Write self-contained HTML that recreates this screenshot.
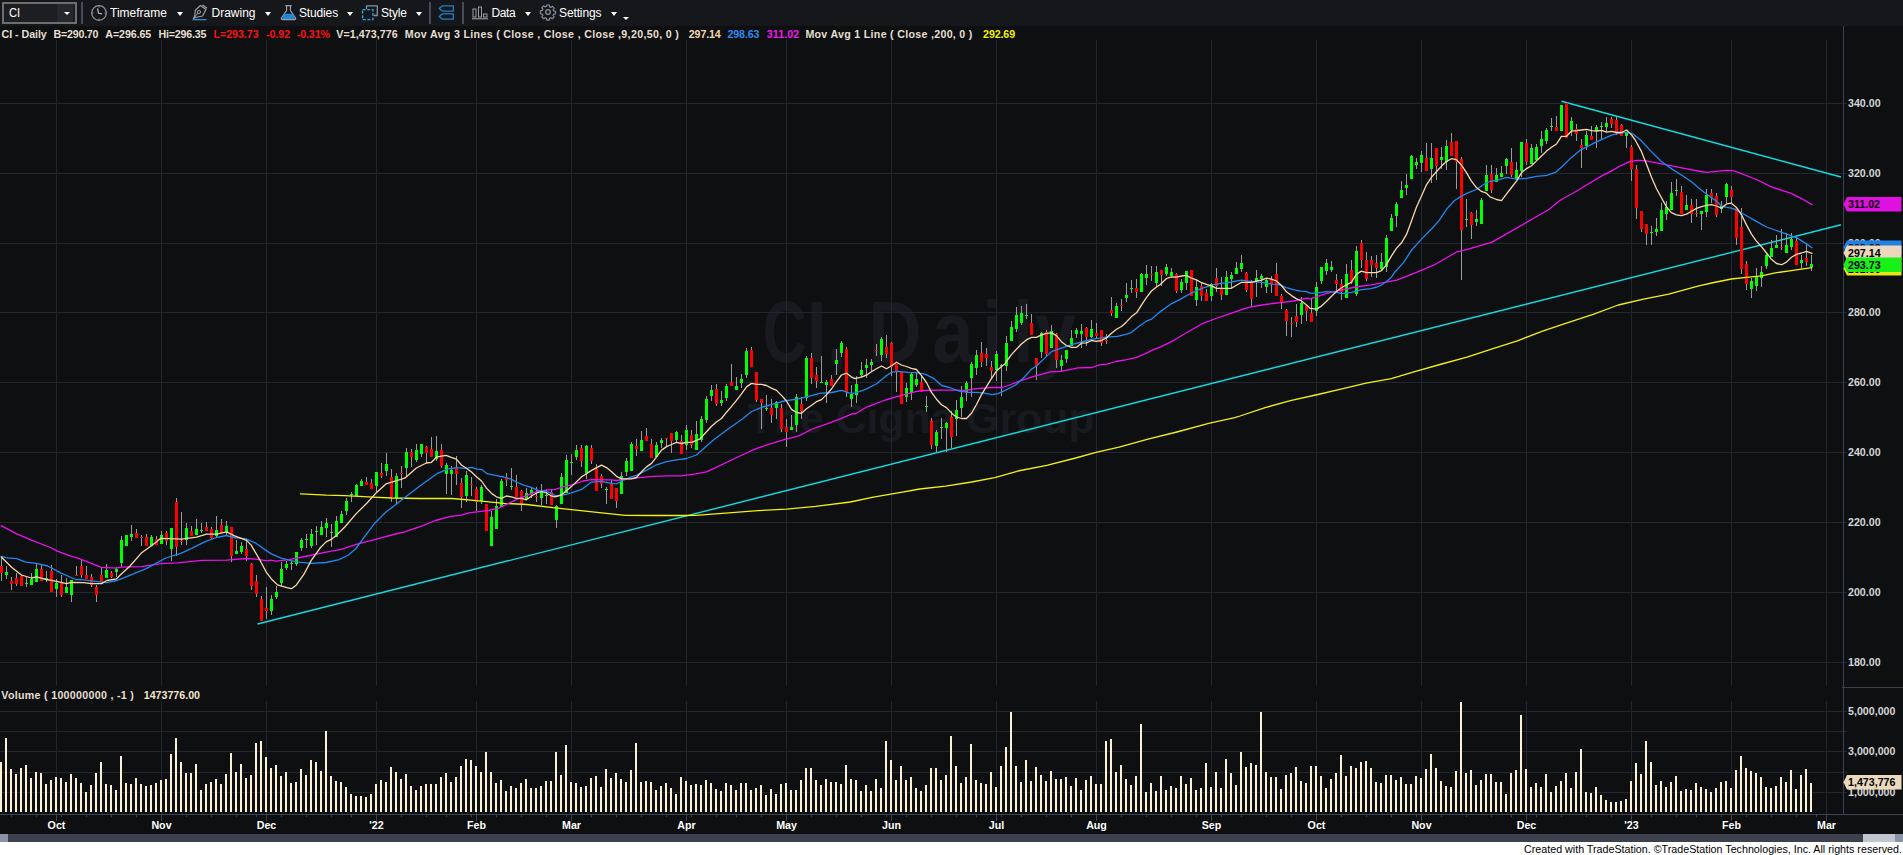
<!DOCTYPE html>
<html><head><meta charset="utf-8"><title>CI Daily</title>
<style>
html,body{margin:0;padding:0;background:#0e0f11;}
body{width:1903px;height:855px;overflow:hidden;position:relative;font-family:"Liberation Sans",sans-serif;}
#tb{position:absolute;left:0;top:0;width:1903px;height:26px;background:#16171a;}
#tb .t{position:absolute;top:5px;font-size:12px;line-height:16px;color:#fff;white-space:nowrap;}
#tb .ar{position:absolute;width:0;height:0;border-left:3.5px solid transparent;border-right:3.5px solid transparent;border-top:4px solid #fff;}
#tb .sep{position:absolute;top:2px;width:2px;height:22px;background:#464c5a;}
#tb svg{position:absolute;}
</style></head><body>
<svg width="1903" height="855" viewBox="0 0 1903 855" style="position:absolute;left:0;top:0">
<rect x="0" y="0" width="1903" height="855" fill="#0e0f11"/>
<g font-family="Liberation Sans, sans-serif" font-weight="bold" fill="#181a1f">
<g transform="scale(0.7,1)"><text y="362" font-size="87" x="1089.6">C</text></g>
<g transform="scale(0.85,1)"><text y="362" font-size="87" x="948.8 972.5 1021.5 1096.7 1155.4 1191.8 1217.4">I,Daily</text></g>
<text x="747.8" y="433" font-size="42" textLength="346.6" lengthAdjust="spacingAndGlyphs">The Cigna Group</text>
</g>
<g shape-rendering="crispEdges" fill="#24262f">
<rect x="0" y="662" width="1847" height="1"/>
<rect x="0" y="592" width="1847" height="1"/>
<rect x="0" y="522" width="1847" height="1"/>
<rect x="0" y="452" width="1847" height="1"/>
<rect x="0" y="382" width="1847" height="1"/>
<rect x="0" y="312" width="1847" height="1"/>
<rect x="0" y="243" width="1847" height="1"/>
<rect x="0" y="173" width="1847" height="1"/>
<rect x="0" y="103" width="1847" height="1"/>
<rect x="0" y="792" width="1847" height="1"/>
<rect x="0" y="772" width="1847" height="1"/>
<rect x="0" y="751" width="1847" height="1"/>
<rect x="0" y="731" width="1847" height="1"/>
<rect x="0" y="711" width="1847" height="1"/>
<rect x="56" y="40" width="1" height="646"/>
<rect x="56" y="701" width="1" height="113"/>
<rect x="161" y="40" width="1" height="646"/>
<rect x="161" y="701" width="1" height="113"/>
<rect x="266" y="40" width="1" height="646"/>
<rect x="266" y="701" width="1" height="113"/>
<rect x="376" y="40" width="1" height="646"/>
<rect x="376" y="701" width="1" height="113"/>
<rect x="476" y="40" width="1" height="646"/>
<rect x="476" y="701" width="1" height="113"/>
<rect x="571" y="40" width="1" height="646"/>
<rect x="571" y="701" width="1" height="113"/>
<rect x="686" y="40" width="1" height="646"/>
<rect x="686" y="701" width="1" height="113"/>
<rect x="786" y="40" width="1" height="646"/>
<rect x="786" y="701" width="1" height="113"/>
<rect x="891" y="40" width="1" height="646"/>
<rect x="891" y="701" width="1" height="113"/>
<rect x="996" y="40" width="1" height="646"/>
<rect x="996" y="701" width="1" height="113"/>
<rect x="1096" y="40" width="1" height="646"/>
<rect x="1096" y="701" width="1" height="113"/>
<rect x="1211" y="40" width="1" height="646"/>
<rect x="1211" y="701" width="1" height="113"/>
<rect x="1316" y="40" width="1" height="646"/>
<rect x="1316" y="701" width="1" height="113"/>
<rect x="1421" y="40" width="1" height="646"/>
<rect x="1421" y="701" width="1" height="113"/>
<rect x="1526" y="40" width="1" height="646"/>
<rect x="1526" y="701" width="1" height="113"/>
<rect x="1631" y="40" width="1" height="646"/>
<rect x="1631" y="701" width="1" height="113"/>
<rect x="1731" y="40" width="1" height="646"/>
<rect x="1731" y="701" width="1" height="113"/>
<rect x="1826" y="40" width="1" height="646"/>
<rect x="1826" y="701" width="1" height="113"/>
</g>
<g shape-rendering="crispEdges" fill="#3c4250">
<rect x="1843" y="26" width="1" height="788"/>
<rect x="0" y="814" width="1903" height="1"/>
<rect x="1842" y="687" width="61" height="1"/>
<rect x="11" y="814" width="1" height="3"/>
<rect x="36" y="814" width="1" height="3"/>
<rect x="61" y="814" width="1" height="3"/>
<rect x="86" y="814" width="1" height="3"/>
<rect x="111" y="814" width="1" height="3"/>
<rect x="136" y="814" width="1" height="3"/>
<rect x="186" y="814" width="1" height="3"/>
<rect x="211" y="814" width="1" height="3"/>
<rect x="236" y="814" width="1" height="3"/>
<rect x="256" y="814" width="1" height="3"/>
<rect x="281" y="814" width="1" height="3"/>
<rect x="306" y="814" width="1" height="3"/>
<rect x="331" y="814" width="1" height="3"/>
<rect x="351" y="814" width="1" height="3"/>
<rect x="401" y="814" width="1" height="3"/>
<rect x="426" y="814" width="1" height="3"/>
<rect x="446" y="814" width="1" height="3"/>
<rect x="471" y="814" width="1" height="3"/>
<rect x="496" y="814" width="1" height="3"/>
<rect x="521" y="814" width="1" height="3"/>
<rect x="546" y="814" width="1" height="3"/>
<rect x="566" y="814" width="1" height="3"/>
<rect x="591" y="814" width="1" height="3"/>
<rect x="616" y="814" width="1" height="3"/>
<rect x="641" y="814" width="1" height="3"/>
<rect x="666" y="814" width="1" height="3"/>
<rect x="691" y="814" width="1" height="3"/>
<rect x="716" y="814" width="1" height="3"/>
<rect x="736" y="814" width="1" height="3"/>
<rect x="761" y="814" width="1" height="3"/>
<rect x="811" y="814" width="1" height="3"/>
<rect x="836" y="814" width="1" height="3"/>
<rect x="861" y="814" width="1" height="3"/>
<rect x="886" y="814" width="1" height="3"/>
<rect x="906" y="814" width="1" height="3"/>
<rect x="931" y="814" width="1" height="3"/>
<rect x="956" y="814" width="1" height="3"/>
<rect x="976" y="814" width="1" height="3"/>
<rect x="1001" y="814" width="1" height="3"/>
<rect x="1021" y="814" width="1" height="3"/>
<rect x="1046" y="814" width="1" height="3"/>
<rect x="1071" y="814" width="1" height="3"/>
<rect x="1121" y="814" width="1" height="3"/>
<rect x="1146" y="814" width="1" height="3"/>
<rect x="1171" y="814" width="1" height="3"/>
<rect x="1196" y="814" width="1" height="3"/>
<rect x="1221" y="814" width="1" height="3"/>
<rect x="1241" y="814" width="1" height="3"/>
<rect x="1266" y="814" width="1" height="3"/>
<rect x="1291" y="814" width="1" height="3"/>
<rect x="1341" y="814" width="1" height="3"/>
<rect x="1366" y="814" width="1" height="3"/>
<rect x="1391" y="814" width="1" height="3"/>
<rect x="1416" y="814" width="1" height="3"/>
<rect x="1441" y="814" width="1" height="3"/>
<rect x="1466" y="814" width="1" height="3"/>
<rect x="1491" y="814" width="1" height="3"/>
<rect x="1511" y="814" width="1" height="3"/>
<rect x="1536" y="814" width="1" height="3"/>
<rect x="1561" y="814" width="1" height="3"/>
<rect x="1586" y="814" width="1" height="3"/>
<rect x="1611" y="814" width="1" height="3"/>
<rect x="1651" y="814" width="1" height="3"/>
<rect x="1676" y="814" width="1" height="3"/>
<rect x="1696" y="814" width="1" height="3"/>
<rect x="1721" y="814" width="1" height="3"/>
<rect x="1746" y="814" width="1" height="3"/>
<rect x="1771" y="814" width="1" height="3"/>
<rect x="1796" y="814" width="1" height="3"/>
<rect x="1816" y="814" width="1" height="3"/>
<rect x="56" y="814" width="1" height="7"/>
<rect x="161" y="814" width="1" height="7"/>
<rect x="266" y="814" width="1" height="7"/>
<rect x="376" y="814" width="1" height="7"/>
<rect x="476" y="814" width="1" height="7"/>
<rect x="571" y="814" width="1" height="7"/>
<rect x="686" y="814" width="1" height="7"/>
<rect x="786" y="814" width="1" height="7"/>
<rect x="891" y="814" width="1" height="7"/>
<rect x="996" y="814" width="1" height="7"/>
<rect x="1096" y="814" width="1" height="7"/>
<rect x="1211" y="814" width="1" height="7"/>
<rect x="1316" y="814" width="1" height="7"/>
<rect x="1421" y="814" width="1" height="7"/>
<rect x="1526" y="814" width="1" height="7"/>
<rect x="1631" y="814" width="1" height="7"/>
<rect x="1731" y="814" width="1" height="7"/>
<rect x="1826" y="814" width="1" height="7"/>
</g>
<g shape-rendering="crispEdges" fill="#fdf0d8">
<rect x="0" y="762" width="2" height="50"/>
<rect x="5" y="738" width="2" height="74"/>
<rect x="10" y="769" width="2" height="43"/>
<rect x="15" y="774" width="2" height="38"/>
<rect x="20" y="768" width="2" height="44"/>
<rect x="25" y="765" width="2" height="47"/>
<rect x="30" y="778" width="2" height="34"/>
<rect x="35" y="772" width="2" height="40"/>
<rect x="40" y="773" width="2" height="39"/>
<rect x="45" y="784" width="2" height="28"/>
<rect x="50" y="780" width="2" height="32"/>
<rect x="55" y="777" width="2" height="35"/>
<rect x="60" y="778" width="2" height="34"/>
<rect x="65" y="782" width="2" height="30"/>
<rect x="70" y="774" width="2" height="38"/>
<rect x="75" y="778" width="2" height="34"/>
<rect x="80" y="783" width="2" height="29"/>
<rect x="85" y="792" width="2" height="20"/>
<rect x="90" y="785" width="2" height="27"/>
<rect x="95" y="773" width="2" height="39"/>
<rect x="100" y="762" width="2" height="50"/>
<rect x="105" y="784" width="2" height="28"/>
<rect x="110" y="785" width="2" height="27"/>
<rect x="115" y="790" width="2" height="22"/>
<rect x="120" y="756" width="2" height="56"/>
<rect x="125" y="783" width="2" height="29"/>
<rect x="130" y="784" width="2" height="28"/>
<rect x="135" y="778" width="2" height="34"/>
<rect x="140" y="784" width="2" height="28"/>
<rect x="145" y="786" width="2" height="26"/>
<rect x="150" y="785" width="2" height="27"/>
<rect x="155" y="783" width="2" height="29"/>
<rect x="160" y="780" width="2" height="32"/>
<rect x="165" y="779" width="2" height="33"/>
<rect x="170" y="754" width="2" height="58"/>
<rect x="175" y="738" width="2" height="74"/>
<rect x="180" y="762" width="2" height="50"/>
<rect x="185" y="773" width="2" height="39"/>
<rect x="190" y="773" width="2" height="39"/>
<rect x="195" y="764" width="2" height="48"/>
<rect x="200" y="790" width="2" height="22"/>
<rect x="205" y="784" width="2" height="28"/>
<rect x="210" y="782" width="2" height="30"/>
<rect x="215" y="779" width="2" height="33"/>
<rect x="220" y="784" width="2" height="28"/>
<rect x="225" y="774" width="2" height="38"/>
<rect x="230" y="753" width="2" height="59"/>
<rect x="235" y="772" width="2" height="40"/>
<rect x="240" y="764" width="2" height="48"/>
<rect x="245" y="778" width="2" height="34"/>
<rect x="250" y="775" width="2" height="37"/>
<rect x="255" y="743" width="2" height="69"/>
<rect x="260" y="741" width="2" height="71"/>
<rect x="265" y="757" width="2" height="55"/>
<rect x="270" y="768" width="2" height="44"/>
<rect x="275" y="765" width="2" height="47"/>
<rect x="280" y="776" width="2" height="36"/>
<rect x="285" y="772" width="2" height="40"/>
<rect x="290" y="783" width="2" height="29"/>
<rect x="295" y="782" width="2" height="30"/>
<rect x="300" y="769" width="2" height="43"/>
<rect x="305" y="775" width="2" height="37"/>
<rect x="310" y="760" width="2" height="52"/>
<rect x="315" y="762" width="2" height="50"/>
<rect x="320" y="771" width="2" height="41"/>
<rect x="325" y="731" width="2" height="81"/>
<rect x="330" y="776" width="2" height="36"/>
<rect x="335" y="781" width="2" height="31"/>
<rect x="340" y="782" width="2" height="30"/>
<rect x="345" y="787" width="2" height="25"/>
<rect x="350" y="794" width="2" height="18"/>
<rect x="355" y="796" width="2" height="16"/>
<rect x="360" y="796" width="2" height="16"/>
<rect x="365" y="797" width="2" height="15"/>
<rect x="370" y="794" width="2" height="18"/>
<rect x="375" y="784" width="2" height="28"/>
<rect x="380" y="780" width="2" height="32"/>
<rect x="385" y="782" width="2" height="30"/>
<rect x="390" y="767" width="2" height="45"/>
<rect x="395" y="772" width="2" height="40"/>
<rect x="400" y="779" width="2" height="33"/>
<rect x="405" y="774" width="2" height="38"/>
<rect x="410" y="786" width="2" height="26"/>
<rect x="415" y="790" width="2" height="22"/>
<rect x="420" y="786" width="2" height="26"/>
<rect x="425" y="784" width="2" height="28"/>
<rect x="430" y="784" width="2" height="28"/>
<rect x="435" y="784" width="2" height="28"/>
<rect x="440" y="777" width="2" height="35"/>
<rect x="445" y="773" width="2" height="39"/>
<rect x="450" y="782" width="2" height="30"/>
<rect x="455" y="777" width="2" height="35"/>
<rect x="460" y="766" width="2" height="46"/>
<rect x="465" y="759" width="2" height="53"/>
<rect x="470" y="760" width="2" height="52"/>
<rect x="475" y="766" width="2" height="46"/>
<rect x="480" y="772" width="2" height="40"/>
<rect x="485" y="752" width="2" height="60"/>
<rect x="490" y="772" width="2" height="40"/>
<rect x="495" y="783" width="2" height="29"/>
<rect x="500" y="780" width="2" height="32"/>
<rect x="505" y="791" width="2" height="21"/>
<rect x="510" y="786" width="2" height="26"/>
<rect x="515" y="788" width="2" height="24"/>
<rect x="520" y="783" width="2" height="29"/>
<rect x="525" y="779" width="2" height="33"/>
<rect x="530" y="788" width="2" height="24"/>
<rect x="535" y="788" width="2" height="24"/>
<rect x="540" y="786" width="2" height="26"/>
<rect x="545" y="781" width="2" height="31"/>
<rect x="550" y="781" width="2" height="31"/>
<rect x="555" y="752" width="2" height="60"/>
<rect x="560" y="775" width="2" height="37"/>
<rect x="565" y="745" width="2" height="67"/>
<rect x="570" y="782" width="2" height="30"/>
<rect x="575" y="783" width="2" height="29"/>
<rect x="580" y="787" width="2" height="25"/>
<rect x="585" y="786" width="2" height="26"/>
<rect x="590" y="778" width="2" height="34"/>
<rect x="595" y="776" width="2" height="36"/>
<rect x="600" y="787" width="2" height="25"/>
<rect x="605" y="769" width="2" height="43"/>
<rect x="610" y="778" width="2" height="34"/>
<rect x="615" y="773" width="2" height="39"/>
<rect x="620" y="779" width="2" height="33"/>
<rect x="625" y="782" width="2" height="30"/>
<rect x="630" y="770" width="2" height="42"/>
<rect x="635" y="743" width="2" height="69"/>
<rect x="640" y="782" width="2" height="30"/>
<rect x="645" y="781" width="2" height="31"/>
<rect x="650" y="782" width="2" height="30"/>
<rect x="655" y="790" width="2" height="22"/>
<rect x="660" y="786" width="2" height="26"/>
<rect x="665" y="783" width="2" height="29"/>
<rect x="670" y="788" width="2" height="24"/>
<rect x="675" y="794" width="2" height="18"/>
<rect x="680" y="777" width="2" height="35"/>
<rect x="685" y="781" width="2" height="31"/>
<rect x="690" y="785" width="2" height="27"/>
<rect x="695" y="784" width="2" height="28"/>
<rect x="700" y="785" width="2" height="27"/>
<rect x="705" y="780" width="2" height="32"/>
<rect x="710" y="783" width="2" height="29"/>
<rect x="715" y="789" width="2" height="23"/>
<rect x="720" y="791" width="2" height="21"/>
<rect x="725" y="783" width="2" height="29"/>
<rect x="730" y="785" width="2" height="27"/>
<rect x="735" y="790" width="2" height="22"/>
<rect x="740" y="783" width="2" height="29"/>
<rect x="745" y="783" width="2" height="29"/>
<rect x="750" y="790" width="2" height="22"/>
<rect x="755" y="788" width="2" height="24"/>
<rect x="760" y="785" width="2" height="27"/>
<rect x="765" y="795" width="2" height="17"/>
<rect x="770" y="789" width="2" height="23"/>
<rect x="775" y="794" width="2" height="18"/>
<rect x="780" y="784" width="2" height="28"/>
<rect x="785" y="783" width="2" height="29"/>
<rect x="790" y="790" width="2" height="22"/>
<rect x="795" y="790" width="2" height="22"/>
<rect x="800" y="780" width="2" height="32"/>
<rect x="805" y="768" width="2" height="44"/>
<rect x="810" y="768" width="2" height="44"/>
<rect x="815" y="780" width="2" height="32"/>
<rect x="820" y="785" width="2" height="27"/>
<rect x="825" y="779" width="2" height="33"/>
<rect x="830" y="782" width="2" height="30"/>
<rect x="835" y="782" width="2" height="30"/>
<rect x="840" y="784" width="2" height="28"/>
<rect x="845" y="765" width="2" height="47"/>
<rect x="850" y="779" width="2" height="33"/>
<rect x="855" y="780" width="2" height="32"/>
<rect x="860" y="791" width="2" height="21"/>
<rect x="865" y="785" width="2" height="27"/>
<rect x="870" y="791" width="2" height="21"/>
<rect x="875" y="779" width="2" height="33"/>
<rect x="880" y="788" width="2" height="24"/>
<rect x="885" y="741" width="2" height="71"/>
<rect x="890" y="760" width="2" height="52"/>
<rect x="895" y="780" width="2" height="32"/>
<rect x="900" y="766" width="2" height="46"/>
<rect x="905" y="780" width="2" height="32"/>
<rect x="910" y="777" width="2" height="35"/>
<rect x="915" y="788" width="2" height="24"/>
<rect x="920" y="791" width="2" height="21"/>
<rect x="925" y="785" width="2" height="27"/>
<rect x="930" y="768" width="2" height="44"/>
<rect x="935" y="768" width="2" height="44"/>
<rect x="940" y="780" width="2" height="32"/>
<rect x="945" y="775" width="2" height="37"/>
<rect x="950" y="736" width="2" height="76"/>
<rect x="955" y="766" width="2" height="46"/>
<rect x="960" y="783" width="2" height="29"/>
<rect x="965" y="777" width="2" height="35"/>
<rect x="970" y="744" width="2" height="68"/>
<rect x="975" y="780" width="2" height="32"/>
<rect x="980" y="783" width="2" height="29"/>
<rect x="985" y="784" width="2" height="28"/>
<rect x="990" y="772" width="2" height="40"/>
<rect x="995" y="787" width="2" height="25"/>
<rect x="1000" y="766" width="2" height="46"/>
<rect x="1005" y="747" width="2" height="65"/>
<rect x="1010" y="712" width="2" height="100"/>
<rect x="1015" y="766" width="2" height="46"/>
<rect x="1020" y="782" width="2" height="30"/>
<rect x="1025" y="760" width="2" height="52"/>
<rect x="1030" y="781" width="2" height="31"/>
<rect x="1035" y="767" width="2" height="45"/>
<rect x="1040" y="775" width="2" height="37"/>
<rect x="1045" y="781" width="2" height="31"/>
<rect x="1050" y="771" width="2" height="41"/>
<rect x="1055" y="779" width="2" height="33"/>
<rect x="1060" y="779" width="2" height="33"/>
<rect x="1065" y="777" width="2" height="35"/>
<rect x="1070" y="786" width="2" height="26"/>
<rect x="1075" y="778" width="2" height="34"/>
<rect x="1080" y="790" width="2" height="22"/>
<rect x="1085" y="780" width="2" height="32"/>
<rect x="1090" y="776" width="2" height="36"/>
<rect x="1095" y="784" width="2" height="28"/>
<rect x="1100" y="784" width="2" height="28"/>
<rect x="1105" y="741" width="2" height="71"/>
<rect x="1110" y="739" width="2" height="73"/>
<rect x="1115" y="772" width="2" height="40"/>
<rect x="1120" y="765" width="2" height="47"/>
<rect x="1125" y="779" width="2" height="33"/>
<rect x="1130" y="785" width="2" height="27"/>
<rect x="1135" y="776" width="2" height="36"/>
<rect x="1140" y="724" width="2" height="88"/>
<rect x="1145" y="792" width="2" height="20"/>
<rect x="1150" y="783" width="2" height="29"/>
<rect x="1155" y="791" width="2" height="21"/>
<rect x="1160" y="776" width="2" height="36"/>
<rect x="1165" y="790" width="2" height="22"/>
<rect x="1170" y="786" width="2" height="26"/>
<rect x="1175" y="788" width="2" height="24"/>
<rect x="1180" y="776" width="2" height="36"/>
<rect x="1185" y="784" width="2" height="28"/>
<rect x="1190" y="778" width="2" height="34"/>
<rect x="1195" y="790" width="2" height="22"/>
<rect x="1200" y="788" width="2" height="24"/>
<rect x="1205" y="763" width="2" height="49"/>
<rect x="1210" y="787" width="2" height="25"/>
<rect x="1215" y="772" width="2" height="40"/>
<rect x="1220" y="788" width="2" height="24"/>
<rect x="1225" y="759" width="2" height="53"/>
<rect x="1230" y="773" width="2" height="39"/>
<rect x="1235" y="785" width="2" height="27"/>
<rect x="1240" y="752" width="2" height="60"/>
<rect x="1245" y="767" width="2" height="45"/>
<rect x="1250" y="763" width="2" height="49"/>
<rect x="1255" y="765" width="2" height="47"/>
<rect x="1260" y="712" width="2" height="100"/>
<rect x="1265" y="772" width="2" height="40"/>
<rect x="1270" y="777" width="2" height="35"/>
<rect x="1275" y="777" width="2" height="35"/>
<rect x="1280" y="789" width="2" height="23"/>
<rect x="1285" y="775" width="2" height="37"/>
<rect x="1290" y="773" width="2" height="39"/>
<rect x="1295" y="767" width="2" height="45"/>
<rect x="1300" y="781" width="2" height="31"/>
<rect x="1305" y="783" width="2" height="29"/>
<rect x="1310" y="766" width="2" height="46"/>
<rect x="1315" y="766" width="2" height="46"/>
<rect x="1320" y="776" width="2" height="36"/>
<rect x="1325" y="788" width="2" height="24"/>
<rect x="1330" y="779" width="2" height="33"/>
<rect x="1335" y="773" width="2" height="39"/>
<rect x="1340" y="755" width="2" height="57"/>
<rect x="1345" y="776" width="2" height="36"/>
<rect x="1350" y="766" width="2" height="46"/>
<rect x="1355" y="768" width="2" height="44"/>
<rect x="1360" y="762" width="2" height="50"/>
<rect x="1365" y="761" width="2" height="51"/>
<rect x="1370" y="768" width="2" height="44"/>
<rect x="1375" y="782" width="2" height="30"/>
<rect x="1380" y="783" width="2" height="29"/>
<rect x="1385" y="775" width="2" height="37"/>
<rect x="1390" y="775" width="2" height="37"/>
<rect x="1395" y="780" width="2" height="32"/>
<rect x="1400" y="777" width="2" height="35"/>
<rect x="1405" y="784" width="2" height="28"/>
<rect x="1410" y="784" width="2" height="28"/>
<rect x="1415" y="776" width="2" height="36"/>
<rect x="1420" y="778" width="2" height="34"/>
<rect x="1425" y="769" width="2" height="43"/>
<rect x="1430" y="754" width="2" height="58"/>
<rect x="1435" y="768" width="2" height="44"/>
<rect x="1440" y="781" width="2" height="31"/>
<rect x="1445" y="786" width="2" height="26"/>
<rect x="1450" y="787" width="2" height="25"/>
<rect x="1455" y="771" width="2" height="41"/>
<rect x="1460" y="702" width="2" height="110"/>
<rect x="1465" y="773" width="2" height="39"/>
<rect x="1470" y="770" width="2" height="42"/>
<rect x="1475" y="785" width="2" height="27"/>
<rect x="1480" y="780" width="2" height="32"/>
<rect x="1485" y="774" width="2" height="38"/>
<rect x="1490" y="774" width="2" height="38"/>
<rect x="1495" y="782" width="2" height="30"/>
<rect x="1500" y="782" width="2" height="30"/>
<rect x="1505" y="794" width="2" height="18"/>
<rect x="1510" y="773" width="2" height="39"/>
<rect x="1515" y="770" width="2" height="42"/>
<rect x="1520" y="715" width="2" height="97"/>
<rect x="1525" y="769" width="2" height="43"/>
<rect x="1530" y="787" width="2" height="25"/>
<rect x="1535" y="783" width="2" height="29"/>
<rect x="1540" y="787" width="2" height="25"/>
<rect x="1545" y="774" width="2" height="38"/>
<rect x="1550" y="792" width="2" height="20"/>
<rect x="1555" y="786" width="2" height="26"/>
<rect x="1560" y="781" width="2" height="31"/>
<rect x="1565" y="773" width="2" height="39"/>
<rect x="1570" y="788" width="2" height="24"/>
<rect x="1575" y="772" width="2" height="40"/>
<rect x="1580" y="749" width="2" height="63"/>
<rect x="1585" y="792" width="2" height="20"/>
<rect x="1590" y="793" width="2" height="19"/>
<rect x="1595" y="787" width="2" height="25"/>
<rect x="1600" y="795" width="2" height="17"/>
<rect x="1605" y="800" width="2" height="12"/>
<rect x="1610" y="802" width="2" height="10"/>
<rect x="1615" y="802" width="2" height="10"/>
<rect x="1620" y="801" width="2" height="11"/>
<rect x="1625" y="799" width="2" height="13"/>
<rect x="1630" y="781" width="2" height="31"/>
<rect x="1635" y="763" width="2" height="49"/>
<rect x="1640" y="774" width="2" height="38"/>
<rect x="1645" y="741" width="2" height="71"/>
<rect x="1650" y="762" width="2" height="50"/>
<rect x="1655" y="785" width="2" height="27"/>
<rect x="1660" y="781" width="2" height="31"/>
<rect x="1665" y="787" width="2" height="25"/>
<rect x="1670" y="782" width="2" height="30"/>
<rect x="1675" y="776" width="2" height="36"/>
<rect x="1680" y="791" width="2" height="21"/>
<rect x="1685" y="789" width="2" height="23"/>
<rect x="1690" y="790" width="2" height="22"/>
<rect x="1695" y="783" width="2" height="29"/>
<rect x="1700" y="787" width="2" height="25"/>
<rect x="1705" y="789" width="2" height="23"/>
<rect x="1710" y="792" width="2" height="20"/>
<rect x="1715" y="788" width="2" height="24"/>
<rect x="1720" y="782" width="2" height="30"/>
<rect x="1725" y="781" width="2" height="31"/>
<rect x="1730" y="788" width="2" height="24"/>
<rect x="1735" y="770" width="2" height="42"/>
<rect x="1740" y="756" width="2" height="56"/>
<rect x="1745" y="768" width="2" height="44"/>
<rect x="1750" y="771" width="2" height="41"/>
<rect x="1755" y="773" width="2" height="39"/>
<rect x="1760" y="777" width="2" height="35"/>
<rect x="1765" y="787" width="2" height="25"/>
<rect x="1770" y="788" width="2" height="24"/>
<rect x="1775" y="786" width="2" height="26"/>
<rect x="1780" y="777" width="2" height="35"/>
<rect x="1785" y="782" width="2" height="30"/>
<rect x="1790" y="770" width="2" height="42"/>
<rect x="1795" y="789" width="2" height="23"/>
<rect x="1800" y="775" width="2" height="37"/>
<rect x="1805" y="769" width="2" height="43"/>
<rect x="1810" y="783" width="2" height="29"/>
</g>
<g fill="none" stroke="#10dde2" stroke-width="1.4">
<path d="M257.5 624 L1841 224.8"/>
<path d="M1561.5 101.2 L1841 177"/>
</g>
<g shape-rendering="crispEdges">
<g fill="#9a9a9a"><rect x="1" y="558" width="1" height="23"/><rect x="6" y="566" width="1" height="13"/><rect x="11" y="577" width="1" height="13"/><rect x="16" y="573" width="1" height="13"/><rect x="21" y="575" width="1" height="11"/><rect x="26" y="577" width="1" height="10"/><rect x="31" y="573" width="1" height="12"/><rect x="36" y="564" width="1" height="18"/><rect x="41" y="565" width="1" height="16"/><rect x="46" y="571" width="1" height="11"/><rect x="51" y="565" width="1" height="27"/><rect x="56" y="579" width="1" height="18"/><rect x="61" y="575" width="1" height="22"/><rect x="66" y="578" width="1" height="15"/><rect x="71" y="580" width="1" height="22"/><rect x="76" y="566" width="1" height="10"/><rect x="81" y="560" width="1" height="18"/><rect x="86" y="566" width="1" height="13"/><rect x="91" y="574" width="1" height="13"/><rect x="96" y="585" width="1" height="17"/><rect x="101" y="568" width="1" height="14"/><rect x="106" y="564" width="1" height="14"/><rect x="111" y="571" width="1" height="7"/><rect x="116" y="567" width="1" height="10"/><rect x="121" y="536" width="1" height="31"/><rect x="126" y="535" width="1" height="11"/><rect x="131" y="525" width="1" height="16"/><rect x="136" y="529" width="1" height="9"/><rect x="141" y="535" width="1" height="11"/><rect x="146" y="534" width="1" height="12"/><rect x="151" y="535" width="1" height="11"/><rect x="156" y="536" width="1" height="9"/><rect x="161" y="531" width="1" height="13"/><rect x="166" y="531" width="1" height="14"/><rect x="171" y="528" width="1" height="33"/><rect x="176" y="498" width="1" height="58"/><rect x="181" y="512" width="1" height="33"/><rect x="186" y="523" width="1" height="22"/><rect x="191" y="526" width="1" height="10"/><rect x="196" y="519" width="1" height="16"/><rect x="201" y="523" width="1" height="10"/><rect x="206" y="522" width="1" height="9"/><rect x="211" y="527" width="1" height="12"/><rect x="216" y="516" width="1" height="21"/><rect x="221" y="519" width="1" height="14"/><rect x="226" y="521" width="1" height="14"/><rect x="231" y="527" width="1" height="35"/><rect x="236" y="540" width="1" height="14"/><rect x="241" y="542" width="1" height="12"/><rect x="246" y="540" width="1" height="21"/><rect x="251" y="563" width="1" height="27"/><rect x="256" y="575" width="1" height="22"/><rect x="261" y="596" width="1" height="25"/><rect x="266" y="587" width="1" height="32"/><rect x="271" y="595" width="1" height="20"/><rect x="276" y="586" width="1" height="13"/><rect x="281" y="562" width="1" height="24"/><rect x="286" y="561" width="1" height="9"/><rect x="291" y="560" width="1" height="10"/><rect x="296" y="552" width="1" height="14"/><rect x="301" y="538" width="1" height="13"/><rect x="306" y="534" width="1" height="14"/><rect x="311" y="529" width="1" height="19"/><rect x="316" y="526" width="1" height="19"/><rect x="321" y="521" width="1" height="14"/><rect x="326" y="518" width="1" height="19"/><rect x="331" y="524" width="1" height="23"/><rect x="336" y="516" width="1" height="21"/><rect x="341" y="511" width="1" height="12"/><rect x="346" y="498" width="1" height="17"/><rect x="351" y="492" width="1" height="10"/><rect x="356" y="484" width="1" height="12"/><rect x="361" y="479" width="1" height="7"/><rect x="366" y="477" width="1" height="8"/><rect x="371" y="479" width="1" height="10"/><rect x="376" y="472" width="1" height="21"/><rect x="381" y="463" width="1" height="15"/><rect x="386" y="453" width="1" height="23"/><rect x="391" y="469" width="1" height="33"/><rect x="396" y="473" width="1" height="31"/><rect x="401" y="466" width="1" height="22"/><rect x="406" y="448" width="1" height="29"/><rect x="411" y="449" width="1" height="18"/><rect x="416" y="444" width="1" height="18"/><rect x="421" y="444" width="1" height="13"/><rect x="426" y="446" width="1" height="17"/><rect x="431" y="437" width="1" height="20"/><rect x="436" y="436" width="1" height="25"/><rect x="441" y="444" width="1" height="24"/><rect x="446" y="463" width="1" height="31"/><rect x="451" y="466" width="1" height="29"/><rect x="456" y="456" width="1" height="29"/><rect x="461" y="478" width="1" height="30"/><rect x="466" y="471" width="1" height="31"/><rect x="471" y="477" width="1" height="19"/><rect x="476" y="487" width="1" height="24"/><rect x="481" y="485" width="1" height="19"/><rect x="486" y="504" width="1" height="27"/><rect x="491" y="511" width="1" height="35"/><rect x="496" y="499" width="1" height="30"/><rect x="501" y="479" width="1" height="28"/><rect x="506" y="473" width="1" height="13"/><rect x="511" y="468" width="1" height="22"/><rect x="516" y="475" width="1" height="22"/><rect x="521" y="490" width="1" height="21"/><rect x="526" y="488" width="1" height="12"/><rect x="531" y="487" width="1" height="11"/><rect x="536" y="487" width="1" height="15"/><rect x="541" y="484" width="1" height="21"/><rect x="546" y="489" width="1" height="15"/><rect x="551" y="490" width="1" height="15"/><rect x="556" y="505" width="1" height="23"/><rect x="561" y="473" width="1" height="31"/><rect x="566" y="455" width="1" height="38"/><rect x="571" y="454" width="1" height="21"/><rect x="576" y="445" width="1" height="15"/><rect x="581" y="445" width="1" height="22"/><rect x="586" y="445" width="1" height="34"/><rect x="591" y="445" width="1" height="19"/><rect x="596" y="464" width="1" height="27"/><rect x="601" y="474" width="1" height="14"/><rect x="606" y="487" width="1" height="17"/><rect x="611" y="480" width="1" height="19"/><rect x="616" y="488" width="1" height="20"/><rect x="621" y="472" width="1" height="22"/><rect x="626" y="458" width="1" height="18"/><rect x="631" y="442" width="1" height="29"/><rect x="636" y="439" width="1" height="17"/><rect x="641" y="431" width="1" height="20"/><rect x="646" y="428" width="1" height="13"/><rect x="651" y="439" width="1" height="19"/><rect x="656" y="442" width="1" height="15"/><rect x="661" y="438" width="1" height="10"/><rect x="666" y="438" width="1" height="8"/><rect x="671" y="433" width="1" height="20"/><rect x="676" y="431" width="1" height="11"/><rect x="681" y="435" width="1" height="19"/><rect x="686" y="425" width="1" height="25"/><rect x="691" y="430" width="1" height="18"/><rect x="696" y="421" width="1" height="29"/><rect x="701" y="416" width="1" height="26"/><rect x="706" y="396" width="1" height="27"/><rect x="711" y="385" width="1" height="16"/><rect x="716" y="384" width="1" height="22"/><rect x="721" y="391" width="1" height="15"/><rect x="726" y="384" width="1" height="17"/><rect x="731" y="364" width="1" height="22"/><rect x="736" y="377" width="1" height="13"/><rect x="741" y="374" width="1" height="14"/><rect x="746" y="348" width="1" height="30"/><rect x="751" y="347" width="1" height="20"/><rect x="756" y="372" width="1" height="30"/><rect x="761" y="399" width="1" height="30"/><rect x="766" y="395" width="1" height="16"/><rect x="771" y="399" width="1" height="24"/><rect x="776" y="401" width="1" height="18"/><rect x="781" y="404" width="1" height="28"/><rect x="786" y="419" width="1" height="28"/><rect x="791" y="415" width="1" height="15"/><rect x="796" y="394" width="1" height="38"/><rect x="801" y="397" width="1" height="22"/><rect x="806" y="356" width="1" height="45"/><rect x="811" y="353" width="1" height="31"/><rect x="816" y="367" width="1" height="21"/><rect x="821" y="356" width="1" height="27"/><rect x="826" y="380" width="1" height="23"/><rect x="831" y="375" width="1" height="11"/><rect x="836" y="349" width="1" height="26"/><rect x="841" y="341" width="1" height="16"/><rect x="846" y="347" width="1" height="50"/><rect x="851" y="385" width="1" height="22"/><rect x="856" y="376" width="1" height="27"/><rect x="861" y="362" width="1" height="15"/><rect x="866" y="359" width="1" height="19"/><rect x="871" y="359" width="1" height="12"/><rect x="876" y="344" width="1" height="12"/><rect x="881" y="337" width="1" height="24"/><rect x="886" y="335" width="1" height="23"/><rect x="891" y="342" width="1" height="34"/><rect x="896" y="364" width="1" height="28"/><rect x="901" y="372" width="1" height="32"/><rect x="906" y="383" width="1" height="19"/><rect x="911" y="373" width="1" height="27"/><rect x="916" y="373" width="1" height="14"/><rect x="921" y="376" width="1" height="16"/><rect x="926" y="396" width="1" height="16"/><rect x="931" y="418" width="1" height="31"/><rect x="936" y="430" width="1" height="22"/><rect x="941" y="418" width="1" height="21"/><rect x="946" y="422" width="1" height="30"/><rect x="951" y="411" width="1" height="37"/><rect x="956" y="400" width="1" height="36"/><rect x="961" y="386" width="1" height="31"/><rect x="966" y="381" width="1" height="20"/><rect x="971" y="362" width="1" height="35"/><rect x="976" y="350" width="1" height="25"/><rect x="981" y="342" width="1" height="25"/><rect x="986" y="348" width="1" height="18"/><rect x="991" y="361" width="1" height="17"/><rect x="996" y="351" width="1" height="30"/><rect x="1001" y="364" width="1" height="32"/><rect x="1006" y="336" width="1" height="35"/><rect x="1011" y="321" width="1" height="20"/><rect x="1016" y="307" width="1" height="25"/><rect x="1021" y="306" width="1" height="19"/><rect x="1026" y="304" width="1" height="15"/><rect x="1031" y="314" width="1" height="21"/><rect x="1036" y="358" width="1" height="22"/><rect x="1041" y="332" width="1" height="26"/><rect x="1046" y="330" width="1" height="27"/><rect x="1051" y="325" width="1" height="23"/><rect x="1056" y="333" width="1" height="35"/><rect x="1061" y="355" width="1" height="16"/><rect x="1066" y="350" width="1" height="13"/><rect x="1071" y="330" width="1" height="16"/><rect x="1076" y="328" width="1" height="10"/><rect x="1081" y="324" width="1" height="24"/><rect x="1086" y="327" width="1" height="19"/><rect x="1091" y="320" width="1" height="18"/><rect x="1096" y="323" width="1" height="15"/><rect x="1101" y="330" width="1" height="16"/><rect x="1106" y="334" width="1" height="10"/><rect x="1111" y="297" width="1" height="19"/><rect x="1116" y="303" width="1" height="15"/><rect x="1121" y="299" width="1" height="12"/><rect x="1126" y="283" width="1" height="19"/><rect x="1131" y="280" width="1" height="13"/><rect x="1136" y="279" width="1" height="19"/><rect x="1141" y="273" width="1" height="19"/><rect x="1146" y="265" width="1" height="20"/><rect x="1151" y="266" width="1" height="15"/><rect x="1156" y="266" width="1" height="20"/><rect x="1161" y="270" width="1" height="16"/><rect x="1166" y="264" width="1" height="12"/><rect x="1171" y="268" width="1" height="8"/><rect x="1176" y="273" width="1" height="20"/><rect x="1181" y="279" width="1" height="14"/><rect x="1186" y="271" width="1" height="19"/><rect x="1191" y="270" width="1" height="26"/><rect x="1196" y="280" width="1" height="26"/><rect x="1201" y="283" width="1" height="18"/><rect x="1206" y="289" width="1" height="12"/><rect x="1211" y="283" width="1" height="18"/><rect x="1216" y="268" width="1" height="24"/><rect x="1221" y="277" width="1" height="23"/><rect x="1226" y="271" width="1" height="24"/><rect x="1231" y="272" width="1" height="16"/><rect x="1236" y="262" width="1" height="12"/><rect x="1241" y="255" width="1" height="17"/><rect x="1246" y="272" width="1" height="20"/><rect x="1251" y="280" width="1" height="27"/><rect x="1256" y="270" width="1" height="27"/><rect x="1261" y="274" width="1" height="14"/><rect x="1266" y="278" width="1" height="15"/><rect x="1271" y="276" width="1" height="17"/><rect x="1276" y="263" width="1" height="33"/><rect x="1281" y="294" width="1" height="15"/><rect x="1286" y="309" width="1" height="27"/><rect x="1291" y="317" width="1" height="20"/><rect x="1296" y="304" width="1" height="23"/><rect x="1301" y="297" width="1" height="27"/><rect x="1306" y="305" width="1" height="16"/><rect x="1311" y="299" width="1" height="23"/><rect x="1316" y="282" width="1" height="34"/><rect x="1321" y="267" width="1" height="17"/><rect x="1326" y="259" width="1" height="16"/><rect x="1331" y="261" width="1" height="11"/><rect x="1336" y="274" width="1" height="18"/><rect x="1341" y="279" width="1" height="21"/><rect x="1346" y="264" width="1" height="34"/><rect x="1351" y="260" width="1" height="24"/><rect x="1356" y="246" width="1" height="50"/><rect x="1361" y="240" width="1" height="28"/><rect x="1366" y="252" width="1" height="29"/><rect x="1371" y="256" width="1" height="21"/><rect x="1376" y="255" width="1" height="23"/><rect x="1381" y="253" width="1" height="17"/><rect x="1386" y="235" width="1" height="37"/><rect x="1391" y="214" width="1" height="17"/><rect x="1396" y="202" width="1" height="25"/><rect x="1401" y="181" width="1" height="17"/><rect x="1406" y="174" width="1" height="21"/><rect x="1411" y="155" width="1" height="24"/><rect x="1416" y="158" width="1" height="11"/><rect x="1421" y="151" width="1" height="21"/><rect x="1426" y="143" width="1" height="28"/><rect x="1431" y="143" width="1" height="40"/><rect x="1436" y="148" width="1" height="32"/><rect x="1441" y="147" width="1" height="22"/><rect x="1446" y="140" width="1" height="30"/><rect x="1451" y="133" width="1" height="23"/><rect x="1456" y="141" width="1" height="48"/><rect x="1461" y="157" width="1" height="123"/><rect x="1466" y="199" width="1" height="28"/><rect x="1471" y="212" width="1" height="27"/><rect x="1476" y="210" width="1" height="16"/><rect x="1481" y="198" width="1" height="26"/><rect x="1486" y="165" width="1" height="26"/><rect x="1491" y="165" width="1" height="28"/><rect x="1496" y="168" width="1" height="14"/><rect x="1501" y="166" width="1" height="11"/><rect x="1506" y="158" width="1" height="16"/><rect x="1511" y="148" width="1" height="29"/><rect x="1516" y="162" width="1" height="18"/><rect x="1521" y="142" width="1" height="35"/><rect x="1526" y="139" width="1" height="26"/><rect x="1531" y="144" width="1" height="20"/><rect x="1536" y="144" width="1" height="16"/><rect x="1541" y="131" width="1" height="22"/><rect x="1546" y="128" width="1" height="16"/><rect x="1551" y="118" width="1" height="13"/><rect x="1556" y="116" width="1" height="15"/><rect x="1561" y="105" width="1" height="26"/><rect x="1566" y="103" width="1" height="35"/><rect x="1571" y="117" width="1" height="19"/><rect x="1576" y="124" width="1" height="17"/><rect x="1581" y="139" width="1" height="29"/><rect x="1586" y="131" width="1" height="19"/><rect x="1591" y="126" width="1" height="14"/><rect x="1596" y="125" width="1" height="23"/><rect x="1601" y="122" width="1" height="18"/><rect x="1606" y="117" width="1" height="15"/><rect x="1611" y="117" width="1" height="11"/><rect x="1616" y="117" width="1" height="18"/><rect x="1621" y="124" width="1" height="12"/><rect x="1626" y="132" width="1" height="16"/><rect x="1631" y="145" width="1" height="36"/><rect x="1636" y="165" width="1" height="54"/><rect x="1641" y="211" width="1" height="21"/><rect x="1646" y="224" width="1" height="21"/><rect x="1651" y="226" width="1" height="19"/><rect x="1656" y="218" width="1" height="18"/><rect x="1661" y="203" width="1" height="28"/><rect x="1666" y="201" width="1" height="19"/><rect x="1671" y="182" width="1" height="28"/><rect x="1676" y="179" width="1" height="17"/><rect x="1681" y="186" width="1" height="28"/><rect x="1686" y="195" width="1" height="15"/><rect x="1691" y="199" width="1" height="24"/><rect x="1696" y="199" width="1" height="18"/><rect x="1701" y="211" width="1" height="19"/><rect x="1706" y="189" width="1" height="28"/><rect x="1711" y="189" width="1" height="14"/><rect x="1716" y="193" width="1" height="24"/><rect x="1721" y="201" width="1" height="12"/><rect x="1726" y="183" width="1" height="20"/><rect x="1731" y="186" width="1" height="17"/><rect x="1736" y="208" width="1" height="37"/><rect x="1741" y="208" width="1" height="66"/><rect x="1746" y="261" width="1" height="29"/><rect x="1751" y="278" width="1" height="20"/><rect x="1756" y="268" width="1" height="23"/><rect x="1761" y="266" width="1" height="21"/><rect x="1766" y="253" width="1" height="16"/><rect x="1771" y="240" width="1" height="17"/><rect x="1776" y="235" width="1" height="13"/><rect x="1781" y="229" width="1" height="21"/><rect x="1786" y="233" width="1" height="20"/><rect x="1791" y="233" width="1" height="17"/><rect x="1796" y="238" width="1" height="27"/><rect x="1801" y="255" width="1" height="14"/><rect x="1806" y="243" width="1" height="23"/><rect x="1811" y="255" width="1" height="16"/></g>
<g fill="#00ff00"><rect x="5" y="572" width="3" height="3"/><rect x="25" y="583" width="3" height="1"/><rect x="30" y="579" width="3" height="6"/><rect x="35" y="569" width="3" height="13"/><rect x="45" y="578" width="3" height="1"/><rect x="55" y="583" width="3" height="6"/><rect x="65" y="587" width="3" height="6"/><rect x="70" y="580" width="3" height="15"/><rect x="105" y="570" width="3" height="8"/><rect x="115" y="569" width="3" height="3"/><rect x="120" y="540" width="3" height="23"/><rect x="125" y="535" width="3" height="11"/><rect x="130" y="534" width="3" height="3"/><rect x="150" y="537" width="3" height="9"/><rect x="160" y="535" width="3" height="9"/><rect x="170" y="528" width="3" height="21"/><rect x="185" y="528" width="3" height="12"/><rect x="195" y="529" width="3" height="6"/><rect x="200" y="530" width="3" height="1"/><rect x="215" y="530" width="3" height="6"/><rect x="225" y="526" width="3" height="6"/><rect x="235" y="551" width="3" height="3"/><rect x="240" y="546" width="3" height="6"/><rect x="270" y="599" width="3" height="12"/><rect x="275" y="592" width="3" height="5"/><rect x="280" y="569" width="3" height="14"/><rect x="285" y="564" width="3" height="4"/><rect x="290" y="563" width="3" height="1"/><rect x="295" y="552" width="3" height="12"/><rect x="300" y="540" width="3" height="8"/><rect x="305" y="539" width="3" height="1"/><rect x="310" y="534" width="3" height="12"/><rect x="315" y="531" width="3" height="1"/><rect x="320" y="527" width="3" height="8"/><rect x="325" y="523" width="3" height="5"/><rect x="330" y="532" width="3" height="1"/><rect x="335" y="521" width="3" height="16"/><rect x="340" y="514" width="3" height="9"/><rect x="345" y="501" width="3" height="10"/><rect x="350" y="494" width="3" height="1"/><rect x="355" y="485" width="3" height="11"/><rect x="360" y="481" width="3" height="5"/><rect x="375" y="472" width="3" height="14"/><rect x="385" y="464" width="3" height="7"/><rect x="395" y="476" width="3" height="22"/><rect x="405" y="452" width="3" height="16"/><rect x="415" y="450" width="3" height="10"/><rect x="420" y="444" width="3" height="10"/><rect x="435" y="451" width="3" height="8"/><rect x="445" y="465" width="3" height="9"/><rect x="450" y="470" width="3" height="4"/><rect x="465" y="475" width="3" height="21"/><rect x="480" y="487" width="3" height="14"/><rect x="490" y="517" width="3" height="29"/><rect x="495" y="506" width="3" height="23"/><rect x="500" y="481" width="3" height="26"/><rect x="510" y="486" width="3" height="1"/><rect x="525" y="493" width="3" height="6"/><rect x="530" y="490" width="3" height="4"/><rect x="540" y="491" width="3" height="7"/><rect x="545" y="495" width="3" height="1"/><rect x="555" y="506" width="3" height="14"/><rect x="560" y="477" width="3" height="27"/><rect x="565" y="460" width="3" height="33"/><rect x="570" y="462" width="3" height="1"/><rect x="575" y="450" width="3" height="7"/><rect x="585" y="446" width="3" height="27"/><rect x="605" y="489" width="3" height="1"/><rect x="620" y="476" width="3" height="18"/><rect x="625" y="461" width="3" height="11"/><rect x="630" y="444" width="3" height="27"/><rect x="640" y="440" width="3" height="11"/><rect x="655" y="445" width="3" height="12"/><rect x="660" y="440" width="3" height="3"/><rect x="675" y="432" width="3" height="8"/><rect x="685" y="430" width="3" height="15"/><rect x="695" y="434" width="3" height="16"/><rect x="700" y="419" width="3" height="21"/><rect x="705" y="399" width="3" height="21"/><rect x="710" y="390" width="3" height="6"/><rect x="720" y="400" width="3" height="3"/><rect x="725" y="386" width="3" height="12"/><rect x="735" y="386" width="3" height="4"/><rect x="740" y="379" width="3" height="4"/><rect x="745" y="351" width="3" height="24"/><rect x="765" y="408" width="3" height="1"/><rect x="775" y="402" width="3" height="6"/><rect x="790" y="427" width="3" height="3"/><rect x="795" y="397" width="3" height="28"/><rect x="805" y="358" width="3" height="40"/><rect x="820" y="382" width="3" height="1"/><rect x="825" y="382" width="3" height="3"/><rect x="835" y="360" width="3" height="4"/><rect x="840" y="343" width="3" height="10"/><rect x="850" y="394" width="3" height="5"/><rect x="855" y="384" width="3" height="11"/><rect x="860" y="370" width="3" height="5"/><rect x="865" y="365" width="3" height="3"/><rect x="870" y="362" width="3" height="3"/><rect x="880" y="339" width="3" height="16"/><rect x="905" y="388" width="3" height="9"/><rect x="910" y="374" width="3" height="19"/><rect x="915" y="379" width="3" height="6"/><rect x="925" y="406" width="3" height="1"/><rect x="935" y="432" width="3" height="14"/><rect x="940" y="427" width="3" height="1"/><rect x="945" y="423" width="3" height="5"/><rect x="955" y="410" width="3" height="9"/><rect x="960" y="397" width="3" height="11"/><rect x="965" y="383" width="3" height="9"/><rect x="970" y="364" width="3" height="14"/><rect x="975" y="355" width="3" height="13"/><rect x="995" y="354" width="3" height="16"/><rect x="1000" y="365" width="3" height="1"/><rect x="1005" y="343" width="3" height="23"/><rect x="1010" y="327" width="3" height="14"/><rect x="1015" y="315" width="3" height="14"/><rect x="1020" y="313" width="3" height="10"/><rect x="1025" y="315" width="3" height="1"/><rect x="1040" y="333" width="3" height="19"/><rect x="1050" y="331" width="3" height="17"/><rect x="1060" y="360" width="3" height="6"/><rect x="1065" y="350" width="3" height="9"/><rect x="1070" y="338" width="3" height="8"/><rect x="1075" y="330" width="3" height="4"/><rect x="1080" y="331" width="3" height="3"/><rect x="1090" y="329" width="3" height="8"/><rect x="1115" y="306" width="3" height="12"/><rect x="1125" y="295" width="3" height="3"/><rect x="1130" y="288" width="3" height="1"/><rect x="1140" y="274" width="3" height="18"/><rect x="1145" y="274" width="3" height="4"/><rect x="1155" y="272" width="3" height="11"/><rect x="1165" y="267" width="3" height="7"/><rect x="1170" y="272" width="3" height="4"/><rect x="1180" y="282" width="3" height="8"/><rect x="1185" y="271" width="3" height="12"/><rect x="1195" y="287" width="3" height="13"/><rect x="1210" y="284" width="3" height="12"/><rect x="1225" y="277" width="3" height="18"/><rect x="1230" y="275" width="3" height="4"/><rect x="1235" y="268" width="3" height="6"/><rect x="1240" y="263" width="3" height="6"/><rect x="1255" y="278" width="3" height="3"/><rect x="1260" y="276" width="3" height="3"/><rect x="1265" y="280" width="3" height="7"/><rect x="1300" y="303" width="3" height="12"/><rect x="1315" y="287" width="3" height="24"/><rect x="1320" y="267" width="3" height="14"/><rect x="1325" y="263" width="3" height="8"/><rect x="1330" y="267" width="3" height="3"/><rect x="1345" y="274" width="3" height="24"/><rect x="1355" y="251" width="3" height="43"/><rect x="1380" y="262" width="3" height="7"/><rect x="1385" y="238" width="3" height="29"/><rect x="1390" y="218" width="3" height="13"/><rect x="1395" y="204" width="3" height="12"/><rect x="1400" y="190" width="3" height="8"/><rect x="1405" y="185" width="3" height="3"/><rect x="1410" y="156" width="3" height="23"/><rect x="1415" y="162" width="3" height="3"/><rect x="1420" y="155" width="3" height="8"/><rect x="1430" y="158" width="3" height="11"/><rect x="1440" y="157" width="3" height="3"/><rect x="1445" y="146" width="3" height="16"/><rect x="1465" y="219" width="3" height="1"/><rect x="1475" y="219" width="3" height="3"/><rect x="1480" y="200" width="3" height="24"/><rect x="1485" y="175" width="3" height="16"/><rect x="1495" y="175" width="3" height="7"/><rect x="1500" y="173" width="3" height="4"/><rect x="1505" y="159" width="3" height="7"/><rect x="1515" y="170" width="3" height="9"/><rect x="1520" y="142" width="3" height="29"/><rect x="1530" y="148" width="3" height="16"/><rect x="1535" y="147" width="3" height="13"/><rect x="1540" y="139" width="3" height="7"/><rect x="1545" y="130" width="3" height="11"/><rect x="1550" y="126" width="3" height="1"/><rect x="1560" y="105" width="3" height="26"/><rect x="1570" y="121" width="3" height="9"/><rect x="1585" y="135" width="3" height="11"/><rect x="1595" y="127" width="3" height="4"/><rect x="1600" y="126" width="3" height="1"/><rect x="1605" y="123" width="3" height="4"/><rect x="1625" y="133" width="3" height="3"/><rect x="1650" y="232" width="3" height="1"/><rect x="1655" y="229" width="3" height="3"/><rect x="1660" y="210" width="3" height="21"/><rect x="1665" y="207" width="3" height="7"/><rect x="1670" y="193" width="3" height="17"/><rect x="1675" y="190" width="3" height="1"/><rect x="1685" y="205" width="3" height="5"/><rect x="1700" y="211" width="3" height="3"/><rect x="1705" y="195" width="3" height="17"/><rect x="1720" y="206" width="3" height="3"/><rect x="1725" y="184" width="3" height="13"/><rect x="1750" y="281" width="3" height="8"/><rect x="1755" y="276" width="3" height="10"/><rect x="1760" y="272" width="3" height="6"/><rect x="1765" y="255" width="3" height="11"/><rect x="1770" y="248" width="3" height="9"/><rect x="1775" y="245" width="3" height="3"/><rect x="1785" y="245" width="3" height="8"/><rect x="1790" y="239" width="3" height="8"/><rect x="1800" y="260" width="3" height="3"/><rect x="1810" y="264" width="3" height="3"/></g>
<g fill="#ff0000"><rect x="0" y="566" width="3" height="7"/><rect x="10" y="581" width="3" height="3"/><rect x="15" y="578" width="3" height="6"/><rect x="20" y="576" width="3" height="10"/><rect x="40" y="569" width="3" height="12"/><rect x="50" y="571" width="3" height="21"/><rect x="60" y="583" width="3" height="12"/><rect x="75" y="575" width="3" height="1"/><rect x="80" y="566" width="3" height="9"/><rect x="85" y="575" width="3" height="4"/><rect x="90" y="577" width="3" height="8"/><rect x="95" y="587" width="3" height="8"/><rect x="100" y="575" width="3" height="7"/><rect x="110" y="573" width="3" height="4"/><rect x="135" y="533" width="3" height="5"/><rect x="140" y="537" width="3" height="1"/><rect x="145" y="537" width="3" height="9"/><rect x="155" y="539" width="3" height="6"/><rect x="165" y="533" width="3" height="8"/><rect x="175" y="502" width="3" height="45"/><rect x="180" y="541" width="3" height="1"/><rect x="190" y="531" width="3" height="5"/><rect x="205" y="527" width="3" height="4"/><rect x="210" y="529" width="3" height="9"/><rect x="220" y="525" width="3" height="8"/><rect x="230" y="527" width="3" height="29"/><rect x="245" y="549" width="3" height="7"/><rect x="250" y="564" width="3" height="22"/><rect x="255" y="581" width="3" height="13"/><rect x="260" y="599" width="3" height="22"/><rect x="265" y="608" width="3" height="3"/><rect x="365" y="482" width="3" height="3"/><rect x="370" y="483" width="3" height="6"/><rect x="380" y="473" width="3" height="3"/><rect x="390" y="477" width="3" height="20"/><rect x="400" y="473" width="3" height="1"/><rect x="410" y="452" width="3" height="5"/><rect x="425" y="447" width="3" height="6"/><rect x="430" y="449" width="3" height="8"/><rect x="440" y="450" width="3" height="16"/><rect x="455" y="468" width="3" height="6"/><rect x="460" y="483" width="3" height="14"/><rect x="470" y="484" width="3" height="1"/><rect x="475" y="489" width="3" height="13"/><rect x="485" y="504" width="3" height="27"/><rect x="505" y="477" width="3" height="3"/><rect x="515" y="487" width="3" height="10"/><rect x="520" y="491" width="3" height="13"/><rect x="535" y="496" width="3" height="1"/><rect x="550" y="492" width="3" height="13"/><rect x="580" y="448" width="3" height="13"/><rect x="590" y="448" width="3" height="13"/><rect x="595" y="469" width="3" height="22"/><rect x="600" y="476" width="3" height="8"/><rect x="610" y="484" width="3" height="15"/><rect x="615" y="488" width="3" height="13"/><rect x="635" y="446" width="3" height="3"/><rect x="645" y="436" width="3" height="5"/><rect x="650" y="444" width="3" height="14"/><rect x="665" y="438" width="3" height="1"/><rect x="670" y="433" width="3" height="8"/><rect x="680" y="441" width="3" height="13"/><rect x="690" y="435" width="3" height="10"/><rect x="715" y="389" width="3" height="15"/><rect x="730" y="382" width="3" height="4"/><rect x="750" y="350" width="3" height="17"/><rect x="755" y="372" width="3" height="28"/><rect x="760" y="399" width="3" height="4"/><rect x="770" y="408" width="3" height="7"/><rect x="780" y="408" width="3" height="21"/><rect x="785" y="427" width="3" height="5"/><rect x="800" y="404" width="3" height="7"/><rect x="810" y="358" width="3" height="20"/><rect x="815" y="375" width="3" height="6"/><rect x="830" y="379" width="3" height="7"/><rect x="845" y="349" width="3" height="43"/><rect x="875" y="350" width="3" height="1"/><rect x="885" y="347" width="3" height="7"/><rect x="890" y="343" width="3" height="24"/><rect x="895" y="364" width="3" height="7"/><rect x="900" y="372" width="3" height="32"/><rect x="920" y="382" width="3" height="10"/><rect x="930" y="421" width="3" height="24"/><rect x="950" y="417" width="3" height="20"/><rect x="980" y="353" width="3" height="9"/><rect x="985" y="354" width="3" height="4"/><rect x="990" y="367" width="3" height="4"/><rect x="1030" y="323" width="3" height="12"/><rect x="1035" y="358" width="3" height="8"/><rect x="1045" y="332" width="3" height="22"/><rect x="1055" y="334" width="3" height="26"/><rect x="1085" y="328" width="3" height="9"/><rect x="1095" y="333" width="3" height="3"/><rect x="1100" y="330" width="3" height="13"/><rect x="1105" y="340" width="3" height="1"/><rect x="1110" y="310" width="3" height="3"/><rect x="1120" y="305" width="3" height="1"/><rect x="1135" y="288" width="3" height="4"/><rect x="1150" y="274" width="3" height="1"/><rect x="1160" y="270" width="3" height="5"/><rect x="1175" y="274" width="3" height="17"/><rect x="1190" y="270" width="3" height="26"/><rect x="1200" y="286" width="3" height="10"/><rect x="1205" y="293" width="3" height="8"/><rect x="1215" y="278" width="3" height="8"/><rect x="1220" y="289" width="3" height="6"/><rect x="1245" y="273" width="3" height="17"/><rect x="1250" y="283" width="3" height="16"/><rect x="1270" y="279" width="3" height="5"/><rect x="1275" y="274" width="3" height="22"/><rect x="1280" y="296" width="3" height="6"/><rect x="1285" y="310" width="3" height="11"/><rect x="1290" y="323" width="3" height="1"/><rect x="1295" y="316" width="3" height="6"/><rect x="1305" y="306" width="3" height="5"/><rect x="1310" y="313" width="3" height="9"/><rect x="1335" y="280" width="3" height="4"/><rect x="1340" y="284" width="3" height="8"/><rect x="1350" y="270" width="3" height="13"/><rect x="1360" y="243" width="3" height="17"/><rect x="1365" y="260" width="3" height="19"/><rect x="1370" y="260" width="3" height="5"/><rect x="1375" y="263" width="3" height="5"/><rect x="1425" y="158" width="3" height="13"/><rect x="1435" y="148" width="3" height="18"/><rect x="1450" y="142" width="3" height="14"/><rect x="1455" y="141" width="3" height="21"/><rect x="1460" y="159" width="3" height="71"/><rect x="1470" y="213" width="3" height="12"/><rect x="1490" y="174" width="3" height="16"/><rect x="1510" y="162" width="3" height="13"/><rect x="1525" y="143" width="3" height="19"/><rect x="1555" y="127" width="3" height="4"/><rect x="1565" y="103" width="3" height="35"/><rect x="1575" y="129" width="3" height="5"/><rect x="1580" y="145" width="3" height="3"/><rect x="1590" y="136" width="3" height="4"/><rect x="1610" y="119" width="3" height="5"/><rect x="1615" y="120" width="3" height="12"/><rect x="1620" y="125" width="3" height="11"/><rect x="1630" y="147" width="3" height="22"/><rect x="1635" y="169" width="3" height="39"/><rect x="1640" y="211" width="3" height="18"/><rect x="1645" y="224" width="3" height="10"/><rect x="1680" y="192" width="3" height="22"/><rect x="1690" y="205" width="3" height="9"/><rect x="1695" y="213" width="3" height="1"/><rect x="1710" y="193" width="3" height="4"/><rect x="1715" y="196" width="3" height="19"/><rect x="1730" y="190" width="3" height="7"/><rect x="1735" y="208" width="3" height="30"/><rect x="1740" y="227" width="3" height="42"/><rect x="1745" y="264" width="3" height="20"/><rect x="1780" y="247" width="3" height="1"/><rect x="1795" y="241" width="3" height="24"/><rect x="1805" y="258" width="3" height="4"/></g>
</g>
<g fill="none" stroke-width="1.3" stroke-linejoin="round" stroke-linecap="round">
<path d="M300.5 493.9 L326.1 495.2 L344.8 495.7 L372.9 497.2 L391.6 498.0 L420.0 498.5 L452.1 498.5 L476.5 500.6 L503.9 503.3 L526.7 504.5 L555.0 507.9 L583.1 510.9 L611.1 513.9 L625.2 515.4 L653.2 515.5 L681.3 515.5 L695.4 515.4 L728.9 512.9 L757.8 510.6 L786.7 509.2 L815.6 506.3 L850.3 502.0 L873.4 497.1 L902.3 492.1 L919.7 489.0 L945.7 486.1 L971.7 482.0 L994.8 477.7 L1017.9 471.0 L1046.8 465.3 L1075.7 458.0 L1096.0 452.3 L1119.1 447.1 L1148.0 439.2 L1176.9 432.0 L1208.7 423.4 L1234.7 417.6 L1240.0 416.0 L1265.2 407.6 L1290.4 400.6 L1315.7 395.0 L1340.9 389.2 L1366.1 383.2 L1391.3 378.6 L1416.5 371.1 L1441.8 364.0 L1467.0 357.2 L1492.2 348.9 L1517.4 340.8 L1542.6 331.2 L1567.9 322.6 L1593.1 314.3 L1618.3 305.0 L1643.5 299.2 L1668.8 294.1 L1691.5 287.8 L1700.0 285.6 L1714.0 282.5 L1731.4 279.0 L1746.5 277.3 L1761.5 275.9 L1776.5 272.7 L1791.3 270.6 L1801.5 269.1 L1811.9 267.7" stroke="#f2f210"/>
<path d="M1.3 525.7 L16.7 533.8 L31.5 540.2 L51.5 548.0 L56.6 550.9 L70.8 556.1 L77.2 557.9 L90.1 562.8 L101.4 567.3 L116.5 568.2 L120.7 567.1 L141.3 566.6 L160.9 563.7 L177.3 562.9 L201.9 560.4 L226.5 560.1 L246.1 558.5 L255.9 559.1 L267.4 560.8 L270.0 560.1 L276.1 561.2 L288.7 559.7 L307.4 556.0 L326.1 552.2 L341.1 549.4 L357.9 543.8 L376.6 539.1 L397.2 533.5 L405.0 531.9 L410.3 529.8 L420.2 526.6 L435.4 520.5 L450.6 516.3 L461.3 515.2 L468.9 512.9 L481.0 511.4 L488.7 510.5 L499.3 507.9 L508.4 503.3 L517.5 499.2 L526.7 495.7 L535.8 491.9 L546.4 490.1 L555.3 489.3 L563.4 486.9 L571.8 484.9 L583.1 481.0 L591.5 479.6 L611.1 479.8 L616.8 480.5 L622.4 479.3 L636.4 477.9 L653.2 476.3 L667.3 475.8 L681.3 475.8 L695.4 473.9 L706.6 471.8 L742.1 455.0 L756.1 448.7 L770.2 443.8 L784.2 439.6 L798.2 436.1 L812.3 429.0 L826.3 424.1 L840.4 418.9 L852.3 413.6 L855.0 414.0 L867.2 406.8 L885.4 400.0 L900.6 395.7 L915.8 391.6 L921.9 390.5 L940.2 390.1 L953.9 390.1 L964.5 390.5 L976.7 388.6 L991.9 387.5 L1002.5 387.5 L1009.6 385.0 L1020.2 380.9 L1035.4 375.9 L1050.6 371.8 L1061.3 371.3 L1078.0 367.9 L1091.7 367.5 L1099.3 364.8 L1106.9 364.2 L1116.0 361.5 L1126.7 359.6 L1135.8 357.7 L1144.9 353.9 L1154.0 349.3 L1160.1 347.1 L1174.0 340.3 L1188.1 331.8 L1202.1 323.7 L1216.1 318.5 L1230.2 313.6 L1244.2 308.7 L1251.2 306.9 L1265.3 304.5 L1272.3 303.5 L1280.7 302.6 L1293.3 301.0 L1307.4 298.2 L1310.0 298.9 L1325.2 293.9 L1340.4 290.1 L1355.6 287.0 L1370.9 284.8 L1386.1 282.2 L1396.7 280.2 L1409.1 275.4 L1422.4 269.9 L1433.6 265.2 L1446.7 257.8 L1456.1 252.2 L1467.3 249.3 L1478.5 246.2 L1491.6 242.4 L1548.2 210.0 L1560.2 200.2 L1574.2 192.5 L1588.2 184.0 L1602.3 175.6 L1610.7 171.4 L1620.5 165.8 L1629.7 161.7 L1637.0 160.3 L1644.4 160.7 L1656.5 162.8 L1671.7 165.9 L1686.9 168.9 L1700.6 171.5 L1706.7 172.4 L1714.3 171.6 L1726.5 170.4 L1734.1 170.9 L1757.6 180.0 L1770.2 186.3 L1784.2 191.2 L1791.3 193.3 L1801.1 198.3 L1811.9 204.6" stroke="#ee10ee"/>
<path d="M1.3 556.3 L7.7 557.9 L16.7 558.6 L25.7 562.1 L36.7 563.4 L47.6 566.0 L61.1 573.1 L75.9 579.5 L83.7 579.9 L101.7 582.1 L106.8 582.7 L116.5 580.5 L120.0 579.3 L146.2 568.6 L165.9 558.0 L181.4 553.1 L192.1 548.1 L205.2 541.6 L216.6 537.5 L226.5 535.5 L234.6 537.5 L246.1 538.8 L255.9 543.2 L267.4 551.4 L271.2 553.9 L281.2 558.2 L296.2 561.9 L311.1 563.4 L326.1 562.5 L339.2 559.7 L348.5 555.0 L356.0 548.5 L363.5 538.2 L374.7 523.2 L386.0 512.0 L397.2 503.6 L404.8 497.5 L420.2 485.8 L436.9 473.7 L447.6 469.1 L456.7 467.6 L465.8 468.3 L471.5 467.3 L478.0 469.4 L481.8 469.4 L487.1 473.7 L496.3 475.6 L503.9 477.0 L511.5 479.4 L517.5 482.5 L523.6 485.1 L531.2 487.4 L538.8 490.7 L546.4 491.5 L551.5 493.4 L555.3 495.7 L562.0 495.3 L571.4 492.9 L581.7 489.4 L591.5 482.1 L601.3 481.4 L611.1 483.4 L616.8 483.8 L621.5 481.0 L631.5 476.8 L636.4 475.4 L646.2 470.4 L656.5 464.8 L666.6 461.7 L676.5 459.9 L686.5 458.5 L696.5 455.0 L699.8 452.0 L714.0 439.6 L728.1 429.0 L742.1 419.2 L751.5 411.5 L761.8 407.3 L773.0 404.1 L784.2 401.0 L798.2 398.9 L809.5 396.1 L820.7 393.2 L831.9 392.5 L841.5 390.4 L848.8 392.8 L855.0 393.1 L865.6 389.3 L876.3 384.0 L885.4 376.4 L891.5 372.3 L897.6 371.4 L908.2 372.3 L916.4 372.6 L925.0 374.1 L934.1 378.7 L941.7 385.5 L949.3 387.5 L958.4 390.8 L967.5 392.4 L976.7 392.4 L984.3 393.1 L991.9 394.6 L998.0 393.6 L1004.0 390.8 L1015.6 385.0 L1024.8 376.7 L1031.5 369.1 L1036.5 366.0 L1044.5 358.4 L1051.5 351.6 L1061.4 348.1 L1071.5 344.7 L1081.5 342.0 L1091.5 339.4 L1101.4 337.9 L1106.4 337.1 L1117.5 336.4 L1126.7 334.1 L1131.2 332.6 L1138.8 326.5 L1146.4 321.2 L1151.5 319.2 L1157.1 314.3 L1160.0 311.9 L1171.2 303.8 L1181.1 298.9 L1190.9 293.2 L1202.1 288.3 L1211.5 285.2 L1221.5 283.4 L1231.4 282.0 L1241.5 280.2 L1251.5 281.7 L1261.5 282.4 L1271.6 284.1 L1277.9 284.4 L1286.3 287.6 L1293.3 289.7 L1300.4 291.1 L1306.5 291.6 L1310.0 293.1 L1316.5 293.1 L1326.4 291.6 L1336.5 292.1 L1341.5 293.6 L1351.5 292.4 L1356.6 290.8 L1361.7 289.6 L1370.9 288.6 L1376.9 287.0 L1381.5 285.1 L1385.8 281.9 L1391.5 277.2 L1394.3 272.7 L1403.7 262.4 L1411.4 250.3 L1421.5 239.1 L1431.7 228.8 L1439.2 220.4 L1446.7 209.1 L1454.2 200.7 L1461.5 196.1 L1467.3 193.2 L1476.4 189.5 L1486.0 183.0 L1490.0 181.5 L1498.4 179.8 L1506.4 177.3 L1516.5 179.1 L1526.5 178.4 L1536.5 176.3 L1546.6 175.3 L1556.0 172.1 L1563.0 165.8 L1571.5 157.4 L1579.8 150.4 L1588.2 146.1 L1596.5 141.9 L1606.5 137.4 L1611.5 135.2 L1616.5 133.9 L1626.6 132.1 L1633.2 134.2 L1640.5 140.0 L1650.4 150.6 L1661.1 161.3 L1671.7 168.9 L1681.4 175.0 L1691.5 181.8 L1700.8 189.7 L1706.5 194.0 L1711.5 197.6 L1716.4 201.1 L1721.5 206.0 L1726.5 207.4 L1731.4 208.1 L1736.5 210.2 L1741.6 213.0 L1746.5 215.8 L1756.4 221.4 L1766.5 227.0 L1776.5 230.5 L1786.5 234.1 L1796.4 237.6 L1806.6 243.9 L1811.9 247.7" stroke="#2088f0"/>
<path d="M1.3 557.0 L11.6 567.3 L21.4 575.0 L31.4 578.0 L36.4 576.9 L46.3 579.5 L56.6 581.4 L66.3 583.6 L71.4 582.3 L83.7 582.7 L91.4 583.6 L101.7 583.6 L106.8 580.5 L116.5 578.9 L120.0 575.2 L129.8 566.2 L141.3 553.1 L151.4 545.7 L160.9 538.3 L176.5 538.8 L181.6 539.1 L196.5 537.2 L206.5 534.2 L216.6 534.2 L226.5 531.8 L234.6 535.9 L246.6 540.4 L251.0 544.9 L259.2 558.8 L266.6 572.7 L271.2 578.7 L277.5 584.9 L286.8 587.7 L291.5 588.7 L296.4 584.9 L303.7 574.7 L311.1 560.6 L320.5 547.5 L326.1 541.9 L331.7 539.1 L336.4 535.4 L344.8 527.0 L356.0 513.9 L367.3 502.7 L376.6 492.4 L386.0 483.9 L391.6 482.1 L400.9 479.3 L405.0 477.9 L416.4 468.0 L426.3 463.0 L431.5 462.3 L436.5 457.2 L441.5 456.2 L446.1 455.4 L450.6 457.2 L456.4 459.2 L461.4 465.0 L466.4 468.3 L471.5 472.1 L476.5 476.7 L481.5 481.0 L486.5 488.1 L491.5 493.4 L496.4 496.8 L501.4 498.3 L506.4 496.0 L511.5 496.8 L516.5 498.3 L521.5 498.3 L526.5 499.8 L531.5 496.0 L536.6 493.0 L541.4 491.5 L546.4 493.0 L551.5 496.0 L555.0 496.8 L561.5 495.0 L571.4 486.6 L581.7 476.8 L591.5 470.4 L601.5 465.1 L606.5 467.6 L611.6 471.8 L616.5 476.3 L621.5 478.9 L631.5 478.9 L636.5 477.5 L641.5 471.8 L646.5 466.9 L651.6 463.4 L656.5 456.8 L661.5 450.1 L666.6 446.6 L671.5 444.5 L676.5 442.4 L681.5 443.5 L686.5 442.4 L691.6 442.4 L696.5 440.3 L700.0 438.9 L706.5 431.8 L711.5 426.2 L716.4 422.0 L721.5 418.5 L726.5 412.2 L731.4 406.6 L736.5 400.3 L741.5 393.9 L746.5 386.9 L751.5 383.4 L756.6 384.4 L761.5 384.4 L766.5 385.5 L771.4 388.1 L776.5 390.4 L781.5 395.4 L786.5 401.0 L791.5 409.4 L796.6 412.5 L801.5 413.3 L806.5 408.7 L811.6 405.2 L816.5 401.7 L821.5 399.6 L826.5 394.6 L831.5 389.0 L836.6 381.3 L841.5 375.0 L846.5 373.2 L851.6 377.1 L855.0 378.7 L861.4 377.1 L866.4 375.2 L871.4 371.8 L876.4 368.8 L881.5 366.0 L886.5 368.8 L891.5 365.7 L896.5 362.2 L901.5 365.0 L906.4 366.5 L911.4 368.3 L916.4 369.5 L921.5 375.6 L926.5 382.5 L931.5 392.4 L936.5 399.2 L941.5 404.8 L946.4 407.6 L951.4 412.9 L956.4 417.0 L961.5 418.5 L966.5 418.5 L971.5 413.3 L976.5 404.5 L981.5 394.6 L986.6 386.3 L991.4 378.7 L996.4 371.1 L1001.5 366.5 L1005.0 363.7 L1011.4 354.6 L1016.4 349.3 L1021.4 344.0 L1026.4 339.9 L1031.5 337.4 L1036.5 337.4 L1041.5 334.8 L1046.5 333.3 L1051.5 332.9 L1056.4 335.6 L1061.4 341.7 L1066.4 345.5 L1071.5 347.3 L1076.5 347.3 L1081.5 343.2 L1086.5 342.9 L1091.5 340.5 L1096.4 341.4 L1101.4 340.5 L1106.4 337.9 L1111.5 333.3 L1116.5 329.2 L1121.5 326.5 L1126.5 321.9 L1131.5 316.6 L1136.6 312.8 L1141.4 305.2 L1146.4 297.6 L1151.5 291.0 L1156.5 286.9 L1160.0 284.8 L1166.5 278.5 L1171.5 276.8 L1176.4 277.1 L1181.5 276.0 L1186.5 275.4 L1191.4 278.2 L1196.5 279.9 L1201.5 282.7 L1206.5 284.4 L1211.5 285.9 L1216.6 288.3 L1221.5 288.3 L1226.5 288.3 L1231.4 288.3 L1236.5 285.2 L1241.5 282.3 L1246.5 282.3 L1251.5 282.3 L1256.6 281.0 L1261.5 280.2 L1266.5 278.2 L1271.6 279.2 L1276.5 281.0 L1281.5 285.5 L1286.5 291.8 L1291.5 295.6 L1296.6 298.9 L1301.5 301.0 L1306.5 304.9 L1310.0 308.3 L1316.5 309.1 L1321.4 306.1 L1326.4 301.5 L1331.5 296.2 L1336.5 291.6 L1341.5 287.8 L1346.5 284.8 L1351.5 282.2 L1356.6 274.1 L1361.4 271.1 L1366.4 272.6 L1371.5 272.6 L1376.5 272.6 L1381.5 270.6 L1385.8 265.6 L1391.5 255.9 L1396.4 248.4 L1401.5 242.8 L1406.5 234.4 L1411.4 221.3 L1416.4 207.3 L1421.5 196.1 L1426.5 184.8 L1431.4 177.4 L1436.4 171.7 L1441.5 166.1 L1446.5 161.5 L1451.4 158.7 L1456.4 159.6 L1461.5 165.2 L1466.5 172.7 L1471.4 181.1 L1476.4 187.6 L1481.5 191.4 L1486.5 193.2 L1490.0 196.9 L1496.5 199.5 L1501.5 200.6 L1506.4 194.1 L1511.5 187.5 L1516.5 181.2 L1521.4 172.8 L1526.5 168.6 L1531.5 165.8 L1536.5 160.9 L1541.5 156.0 L1546.6 151.1 L1551.5 147.3 L1556.5 144.0 L1561.4 136.3 L1566.5 136.3 L1571.5 131.0 L1576.5 130.7 L1581.5 130.0 L1586.6 129.3 L1591.5 130.7 L1596.5 131.0 L1601.6 130.4 L1606.5 132.1 L1611.5 131.4 L1616.5 132.5 L1621.5 132.5 L1626.6 130.0 L1631.5 134.9 L1635.2 140.0 L1641.4 151.4 L1646.5 164.3 L1651.5 177.3 L1656.5 188.7 L1661.5 197.8 L1666.5 206.9 L1671.4 212.7 L1676.4 214.8 L1681.4 215.6 L1686.5 214.1 L1691.5 211.2 L1696.5 208.4 L1700.8 206.8 L1706.5 205.3 L1711.5 204.6 L1716.4 206.0 L1721.5 208.1 L1726.5 203.9 L1731.4 203.2 L1736.5 207.4 L1741.6 215.1 L1746.5 224.9 L1751.5 234.1 L1756.4 241.1 L1761.5 246.7 L1766.5 253.0 L1771.5 259.3 L1776.5 263.5 L1781.6 264.7 L1786.5 262.1 L1791.5 257.2 L1796.4 254.4 L1801.5 253.0 L1806.6 251.3 L1811.9 253.4" stroke="#f8d8aa"/>
</g>
<g font-family="Liberation Sans, sans-serif" font-weight="bold" font-size="10.67" fill="#d6d6d6">
<text x="1848" y="665.7">180.00</text>
<text x="1848" y="595.8">200.00</text>
<text x="1848" y="525.9">220.00</text>
<text x="1848" y="456.1">240.00</text>
<text x="1848" y="386.2">260.00</text>
<text x="1848" y="316.3">280.00</text>
<text x="1848" y="246.5">300.00</text>
<text x="1848" y="176.6">320.00</text>
<text x="1848" y="106.7">340.00</text>
<text x="1848" y="795.9">1,000,000</text>
<text x="1848" y="754.9">3,000,000</text>
<text x="1848" y="714.9">5,000,000</text>
</g>
<g font-family="Liberation Sans, sans-serif" font-weight="bold" font-size="10.67" fill="#ffffff" text-anchor="middle">
<text x="56.5" y="829">Oct</text>
<text x="161.5" y="829">Nov</text>
<text x="266.5" y="829">Dec</text>
<text x="376.5" y="829">'22</text>
<text x="476.5" y="829">Feb</text>
<text x="571.5" y="829">Mar</text>
<text x="686.5" y="829">Apr</text>
<text x="786.5" y="829">May</text>
<text x="891.5" y="829">Jun</text>
<text x="996.5" y="829">Jul</text>
<text x="1096.5" y="829">Aug</text>
<text x="1211.5" y="829">Sep</text>
<text x="1316.5" y="829">Oct</text>
<text x="1421.5" y="829">Nov</text>
<text x="1526.5" y="829">Dec</text>
<text x="1631.5" y="829">'23</text>
<text x="1731.5" y="829">Feb</text>
<text x="1826.5" y="829">Mar</text>
</g>
<path d="M1843.5 204.3 L1847 197.1 L1901.5 197.1 L1901.5 211.5 L1847 211.5 Z" fill="#e010e0"/>
<text x="1848" y="208.4" font-family="Liberation Sans, sans-serif" font-weight="bold" font-size="10.67" fill="#000">311.02</text>
<path d="M1843.5 247.6 L1847 240.4 L1901.5 240.4 L1901.5 254.8 L1847 254.8 Z" fill="#1e82e6"/>
<text x="1848" y="251.7" font-family="Liberation Sans, sans-serif" font-weight="bold" font-size="10.67" fill="#000">298.63</text>
<path d="M1843.5 252.8 L1847 245.6 L1901.5 245.6 L1901.5 260.0 L1847 260.0 Z" fill="#ecd8bc"/>
<text x="1848" y="256.9" font-family="Liberation Sans, sans-serif" font-weight="bold" font-size="10.67" fill="#000">297.14</text>
<path d="M1843.5 268.4 L1847 261.2 L1901.5 261.2 L1901.5 275.6 L1847 275.6 Z" fill="#e6e614"/>
<text x="1848" y="272.5" font-family="Liberation Sans, sans-serif" font-weight="bold" font-size="10.67" fill="#000">292.69</text>
<path d="M1843.5 264.7 L1847 257.5 L1901.5 257.5 L1901.5 271.9 L1847 271.9 Z" fill="#18f018"/>
<text x="1848" y="268.8" font-family="Liberation Sans, sans-serif" font-weight="bold" font-size="10.67" fill="#000">293.73</text>
<path d="M1843.5 782.2 L1847 775.0 L1901.5 775.0 L1901.5 789.4 L1847 789.4 Z" fill="#ecd8bc"/>
<text x="1848" y="786.3" font-family="Liberation Sans, sans-serif" font-weight="bold" font-size="10.67" fill="#000">1,473,776</text>
<g font-family="Liberation Sans, sans-serif" font-weight="bold" font-size="10.67" fill="#e6dfd2">
<text x="1.6" y="38" textLength="45.2" lengthAdjust="spacing" xml:space="preserve">CI - Daily</text>
<text x="53.6" y="38" textLength="44.9" lengthAdjust="spacing" xml:space="preserve">B=290.70</text>
<text x="105.3" y="38" textLength="46.0" lengthAdjust="spacing" xml:space="preserve">A=296.65</text>
<text x="158.4" y="38" textLength="48.1" lengthAdjust="spacing" xml:space="preserve">Hi=296.35</text>
<text x="213.6" y="38" fill="#ff1010" textLength="45.0" lengthAdjust="spacing" xml:space="preserve">L=293.73</text>
<text x="266.1" y="38" fill="#ff1010" textLength="24.0" lengthAdjust="spacing" xml:space="preserve">-0.92</text>
<text x="296.7" y="38" fill="#ff1010" textLength="33.3" lengthAdjust="spacing" xml:space="preserve">-0.31%</text>
<text x="336.3" y="38" textLength="61.3" lengthAdjust="spacing" xml:space="preserve">V=1,473,776</text>
<text x="404.8" y="38" textLength="274.0" lengthAdjust="spacing" xml:space="preserve">Mov Avg 3 Lines ( Close , Close , Close ,9,20,50, 0 )</text>
<text x="688.8" y="38" fill="#f3d9b0" textLength="32.0" lengthAdjust="spacing" xml:space="preserve">297.14</text>
<text x="727.5" y="38" fill="#2a8cf0" textLength="32.0" lengthAdjust="spacing" xml:space="preserve">298.63</text>
<text x="766.8" y="38" fill="#f018f0" textLength="32.4" lengthAdjust="spacing" xml:space="preserve">311.02</text>
<text x="805.4" y="38" textLength="167.0" lengthAdjust="spacing" xml:space="preserve">Mov Avg 1 Line ( Close ,200, 0 )</text>
<text x="983.1" y="38" fill="#f0f000" textLength="32.0" lengthAdjust="spacing" xml:space="preserve">292.69</text>
<text x="1.3" y="699" textLength="132.6" lengthAdjust="spacing" xml:space="preserve">Volume ( 100000000 , -1 )</text>
<text x="143.7" y="699" fill="#f3e6cf" textLength="56.3" lengthAdjust="spacing" xml:space="preserve">1473776.00</text>
</g>
<g shape-rendering="crispEdges">
<rect x="0" y="834" width="1903" height="8" fill="#3c414d"/>
<rect x="0" y="834" width="8" height="8" fill="#8a93a6"/>
<rect x="1863" y="834" width="32" height="8" fill="#c0c5d0"/>
<rect x="1895" y="834" width="8" height="8" fill="#8a93a6"/>
<rect x="0" y="842" width="1903" height="13" fill="#ffffff"/>
</g>
<text x="1524" y="852.5" textLength="378" lengthAdjust="spacingAndGlyphs" font-family="Liberation Sans, sans-serif" font-size="11.6" fill="#000">Created with TradeStation. ©TradeStation Technologies, Inc. All rights reserved.</text>
</svg>
<div id="tb">
<div style="position:absolute;left:2px;top:2px;width:71px;height:18px;border:2px solid #6e6e6e;background:#1d1e22;"></div>
<div style="position:absolute;left:57px;top:4px;width:16px;height:18px;background:#26272b;"></div>
<div class="t" style="left:8.5px;font-size:13px;transform:scaleX(0.86);transform-origin:0 0;">CI</div>
<div class="ar" style="left:63.5px;top:12px;border-left-width:3px;border-right-width:3px;border-top-width:3.5px;"></div>
<div class="sep" style="left:81px;"></div>
<svg style="left:90px;top:4px" width="18" height="18" viewBox="0 0 18 18"><circle cx="9" cy="9" r="7.3" fill="none" stroke="#8d9099" stroke-width="1.3"/><path d="M7.5 4.5 L8.6 9.3 L12 9.8" fill="none" stroke="#b8bbc2" stroke-width="1.2"/><path d="M9 1.7v1.6M9 14.7v1.6M1.7 9h1.6M14.7 9h1.6" stroke="#8d9099" stroke-width="1.2"/></svg>
<div class="t" style="left:110px;">Timeframe</div>
<div class="ar" style="left:176.5px;top:12px;"></div>
<svg style="left:190px;top:3px" width="20" height="20" viewBox="0 0 20 20"><path d="M10.5 2.5 L16 6.5 L12.5 13 L5.5 14.5 L3.5 15.5 L4.5 13.5 L5.5 7 Z" fill="none" stroke="#9a9da5" stroke-width="1.2" stroke-linejoin="round"/><path d="M12.5 2 L17 5.2" stroke="#9a9da5" stroke-width="1.2"/><circle cx="9" cy="9" r="1.6" fill="none" stroke="#9a9da5" stroke-width="1"/><path d="M4 15 L8 10" stroke="#9a9da5" stroke-width="1"/><rect x="2.5" y="16" width="14" height="1.3" fill="#1e90d8"/></svg>
<div class="t" style="left:211.5px;">Drawing</div>
<div class="ar" style="left:264.5px;top:12px;"></div>
<svg style="left:279px;top:3px" width="20" height="20" viewBox="0 0 20 20"><path d="M6.3 2.6 H12.7 M7.6 2.6 V7.6 L2.4 15 Q1.9 16.6 3.6 16.6 H15.4 Q17.1 16.6 16.6 15 L11.4 7.6 V2.6" fill="none" stroke="#9a9da5" stroke-width="1.2" stroke-linejoin="round"/><path d="M5.6 10.8 H13.4 L16 14.9 Q16.4 16 15.2 16 H3.8 Q2.6 16 3 14.9 Z" fill="#1e88d8"/></svg>
<div class="t" style="left:299px;letter-spacing:-0.15px;">Studies</div>
<div class="ar" style="left:346.5px;top:12px;"></div>
<svg style="left:360px;top:3px" width="20" height="20" viewBox="0 0 20 20"><path d="M6.5 6 V2.8 H17.3 V12.5 H14" fill="none" stroke="#8d9099" stroke-width="1.3"/><rect x="2.6" y="6.6" width="10.4" height="10" fill="none" stroke="#29a8e8" stroke-width="1.3" stroke-dasharray="3 1.6"/></svg>
<div class="t" style="left:381px;letter-spacing:-0.2px;">Style</div>
<div class="ar" style="left:415.5px;top:12px;"></div>
<div class="sep" style="left:429px;"></div>
<svg style="left:437px;top:3px" width="20" height="20" viewBox="0 0 20 20"><path d="M2.2 5.5 L5.5 2.8 H16.3 V8.2 H5.5 Z M2.2 13.5 L5.5 10.8 H16.3 V16.2 H5.5 Z" fill="none" stroke="#1e80c8" stroke-width="1.3" stroke-linejoin="round"/></svg>
<div class="sep" style="left:462px;"></div>
<svg style="left:471px;top:4px" width="20" height="18" viewBox="0 0 20 18"><rect x="2" y="5" width="3" height="8" fill="none" stroke="#9a9da5" stroke-width="1"/><rect x="7.5" y="3" width="3" height="10" fill="none" stroke="#9a9da5" stroke-width="1"/><rect x="12.5" y="10" width="3.5" height="3" fill="none" stroke="#9a9da5" stroke-width="1"/><rect x="1" y="14.2" width="16" height="1.1" fill="#9a9da5"/></svg>
<div class="t" style="left:491.5px;letter-spacing:-0.4px;">Data</div>
<div class="ar" style="left:524.5px;top:12px;"></div>
<svg style="left:539px;top:2.6px" width="18" height="18" viewBox="0 0 18 18"><g fill="none" stroke="#8d9099" stroke-width="1.3" stroke-linejoin="round"><path d="M7.6 1.2h2.8l.4 2.1 1.3.6 1.8-1.2 2 2-1.2 1.8.6 1.3 2.1.4v2.8l-2.1.4-.6 1.3 1.2 1.8-2 2-1.8-1.2-1.3.6-.4 2.1H7.6l-.4-2.1-1.3-.6-1.8 1.2-2-2 1.2-1.8-.6-1.3-2.1-.4V7.6l2.1-.4.6-1.3L2.1 4.100l2-2 1.800 1.200 1.300-.600z" transform="translate(0.9 0.9) scale(0.9)"/><circle cx="9" cy="9" r="2.3"/></g></svg>
<div class="t" style="left:559px;letter-spacing:-0.12px;">Settings</div>
<div class="ar" style="left:610.5px;top:12px;"></div>
<div class="ar" style="left:623px;top:16.5px;border-left-width:3px;border-right-width:3px;border-top-width:3.5px;"></div>
</div>

</body></html>
